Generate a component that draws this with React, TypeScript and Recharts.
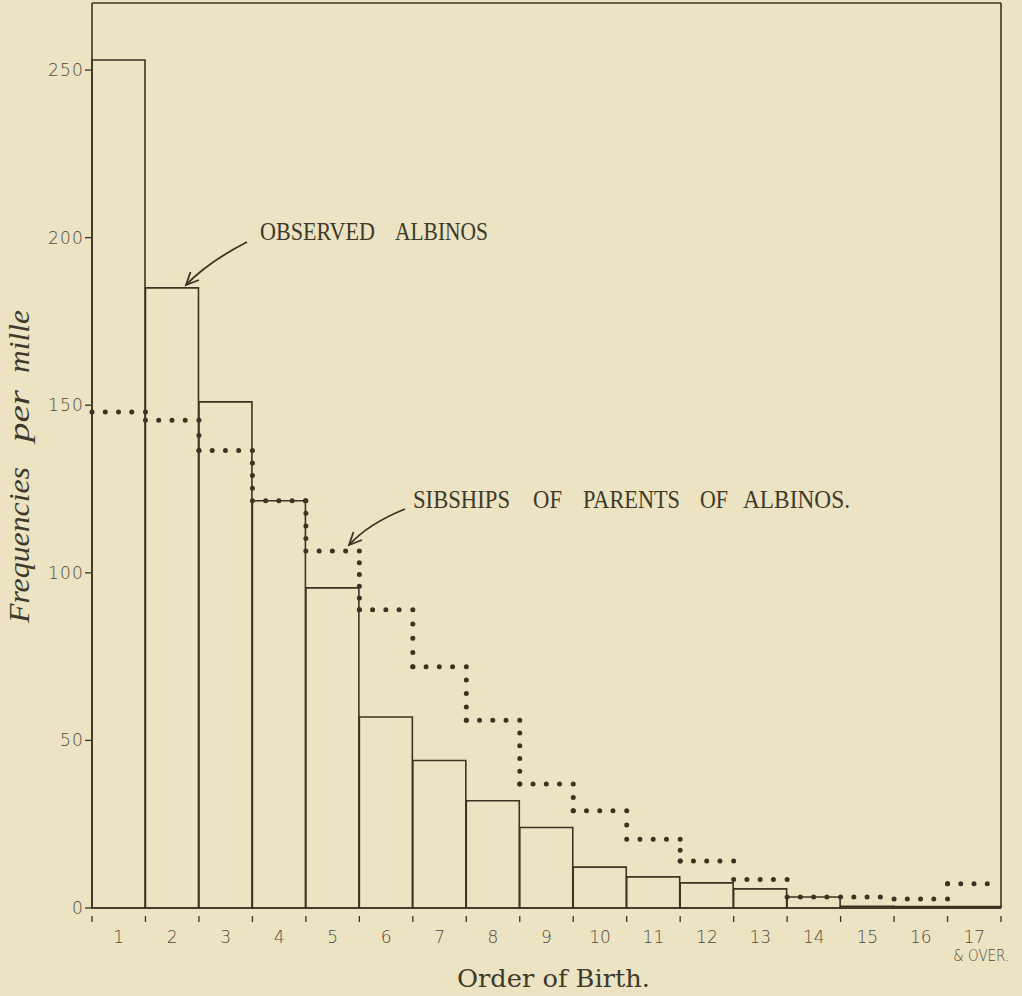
import React from 'react';
import { ComposedChart, Bar, XAxis, YAxis } from 'recharts';

const birthOrders = ['1', '2', '3', '4', '5', '6', '7', '8', '9', '10', '11', '12', '13', '14', '15', '16', '17'];
const observedAlbinos = [253, 185, 151, 121.5, 95.5, 57, 44, 32, 24, 12.2, 9.3, 7.5, 5.7, 3.3, 0.5, 0.4, 0.4];
const sibshipsOfParents = [148, 145.5, 136.5, 121.5, 106.5, 89, 72, 56, 37, 29, 20.5, 14, 8.5, 3.3, 3.3, 2.7, 7.2];
const yTicks = [0, 50, 100, 150, 200, 250];
const yDomain = [0, 270];
const lastLabelExtra = '& OVER.';

const data = birthOrders.map((order, i) => ({
  order,
  observed: observedAlbinos[i],
  sibships: sibshipsOfParents[i],
}));

const INK = '#3a3522';
const PAPER = '#ebe3c2';
const LABEL = '#4f4b3d';

const DottedStep = (props: any) => {
  const { x, y, width, height, index } = props;
  const value = sibshipsOfParents[index];
  const base = y + height;
  const perUnit = value > 0 ? height / value : 0;
  const prev = index > 0 ? sibshipsOfParents[index - 1] : null;
  const hGap = width / 4;
  const elems: any[] = [
    <line
      key="h"
      x1={x}
      y1={y}
      x2={x + width}
      y2={y}
      stroke={INK}
      strokeWidth={5}
      strokeLinecap="round"
      strokeDasharray={`0 ${hGap}`}
    />,
  ];
  if (prev != null) {
    const prevY = base - prev * perUnit;
    const len = Math.abs(prevY - y);
    if (len > 3) {
      const n = Math.max(1, Math.round(len / 13));
      elems.push(
        <line
          key="v"
          x1={x}
          y1={Math.min(prevY, y)}
          x2={x}
          y2={Math.max(prevY, y)}
          stroke={INK}
          strokeWidth={5}
          strokeLinecap="round"
          strokeDasharray={`0 ${len / n}`}
        />
      );
    }
  }
  return <g>{elems}</g>;
};

const XTick = (props: any) => {
  const { x, y, payload, index } = props;
  const half = payload && typeof payload.offset === 'number' && payload.offset > 0 ? payload.offset : 909 / 34;
  const isLast = index === birthOrders.length - 1;
  return (
    <g>
      <line x1={x - half} x2={x - half} y1={y + 8} y2={y + 14} stroke={INK} strokeWidth={1.3} />
      {isLast && <line x1={x + half} x2={x + half} y1={y + 8} y2={y + 14} stroke={INK} strokeWidth={1.3} />}
      <text
        x={x}
        y={y + 35}
        textAnchor="middle"
        fontFamily="DejaVu Sans"
        fontWeight={200}
        fontSize={17}
        fill={LABEL}
      >
        {payload.value}
      </text>
      {isLast && (
        <text
          x={x + 7}
          y={y + 53}
          textAnchor="middle"
          textLength={56}
          lengthAdjust="spacingAndGlyphs"
          fontFamily="DejaVu Sans"
          fontWeight={200}
          fontSize={15}
          fill={LABEL}
        >
          {lastLabelExtra}
        </text>
      )}
    </g>
  );
};

const serif = "'Liberation Serif', 'DejaVu Serif', serif";

const Word = ({ x, y, w, children }: any) => (
  <text x={x} y={y} textLength={w} lengthAdjust="spacingAndGlyphs" fontFamily={serif} fontSize={25} fill="#3d3a2a">
    {children}
  </text>
);

const VWord = ({ x, y, w, children }: any) => (
  <text
    x={x}
    y={y}
    transform={`rotate(-90 ${x} ${y})`}
    textLength={w}
    lengthAdjust="spacingAndGlyphs"
    fontFamily={serif}
    fontStyle="italic"
    fontSize={29}
    fill="#3d3a2a"
  >
    {children}
  </text>
);

export default function App() {
  return (
    <div style={{ position: 'relative', width: 1022, height: 996, background: PAPER }}>
      <style>{`body{margin:0;background:${PAPER};}`}</style>
      <ComposedChart
        width={1022}
        height={996}
        data={data}
        margin={{ top: 2, right: 20, bottom: 1, left: 0 }}
        barCategoryGap={0}
        barGap={0}
      >
        <XAxis
          dataKey="order"
          xAxisId="main"
          interval={0}
          tick={<XTick />}
          tickLine={false}
          tickSize={0}
          tickMargin={0}
          height={87}
          axisLine={{ stroke: INK, strokeWidth: 1.6 }}
        />
        <XAxis
          dataKey="order"
          xAxisId="top"
          orientation="top"
          tick={false}
          tickLine={false}
          height={1}
          axisLine={{ stroke: INK, strokeWidth: 1.6 }}
        />
        <YAxis
          yAxisId="main"
          domain={yDomain}
          ticks={yTicks}
          interval={0}
          width={92}
          tickSize={7}
          tickMargin={1}
          tickLine={{ stroke: INK, strokeWidth: 1.3 }}
          axisLine={{ stroke: INK, strokeWidth: 1.6 }}
          tick={{ fill: LABEL, fontSize: 17, fontFamily: 'DejaVu Sans', fontWeight: 200, letterSpacing: 1.2 }}
        />
        <YAxis
          yAxisId="right"
          orientation="right"
          domain={yDomain}
          ticks={yTicks}
          width={1}
          tick={false}
          tickLine={false}
          axisLine={{ stroke: INK, strokeWidth: 1.6 }}
        />
        <Bar
          xAxisId="main"
          yAxisId="main"
          dataKey="observed"
          fill="none"
          stroke={INK}
          strokeWidth={1.6}
          isAnimationActive={false}
        />
        <Bar
          xAxisId="top"
          yAxisId="right"
          dataKey="sibships"
          shape={<DottedStep />}
          isAnimationActive={false}
        />
      </ComposedChart>
      <svg
        width={1022}
        height={996}
        style={{ position: 'absolute', left: 0, top: 0, pointerEvents: 'none' }}
      >
        <Word x={260} y={240} w={115}>OBSERVED</Word>
        <Word x={395} y={240} w={93}>ALBINOS</Word>
        <Word x={413} y={508} w={97}>SIBSHIPS</Word>
        <Word x={533} y={508} w={29}>OF</Word>
        <Word x={583} y={508} w={97}>PARENTS</Word>
        <Word x={700} y={508} w={28}>OF</Word>
        <Word x={743} y={508} w={107}>ALBINOS.</Word>

        <path d="M247,242 Q208,262 186,285" fill="none" stroke={INK} strokeWidth={1.8} />
        <path d="M199,280 L186,285 L190.5,272" fill="none" stroke={INK} strokeWidth={1.8} />
        <path d="M405,509 Q368,524 349,545" fill="none" stroke={INK} strokeWidth={1.8} />
        <path d="M362,540 L349,545 L353.5,532" fill="none" stroke={INK} strokeWidth={1.8} />

        <VWord x={29} y={623} w={156}>Frequencies</VWord>
        <VWord x={29} y={442} w={52}>per</VWord>
        <VWord x={29} y={373} w={63}>mille</VWord>

        <text
          x={457}
          y={987}
          textLength={193}
          lengthAdjust="spacingAndGlyphs"
          fontFamily="'DejaVu Serif', serif"
          fontSize={24}
          fill="#3d3a2a"
        >
          Order of Birth.
        </text>
      </svg>
    </div>
  );
}
